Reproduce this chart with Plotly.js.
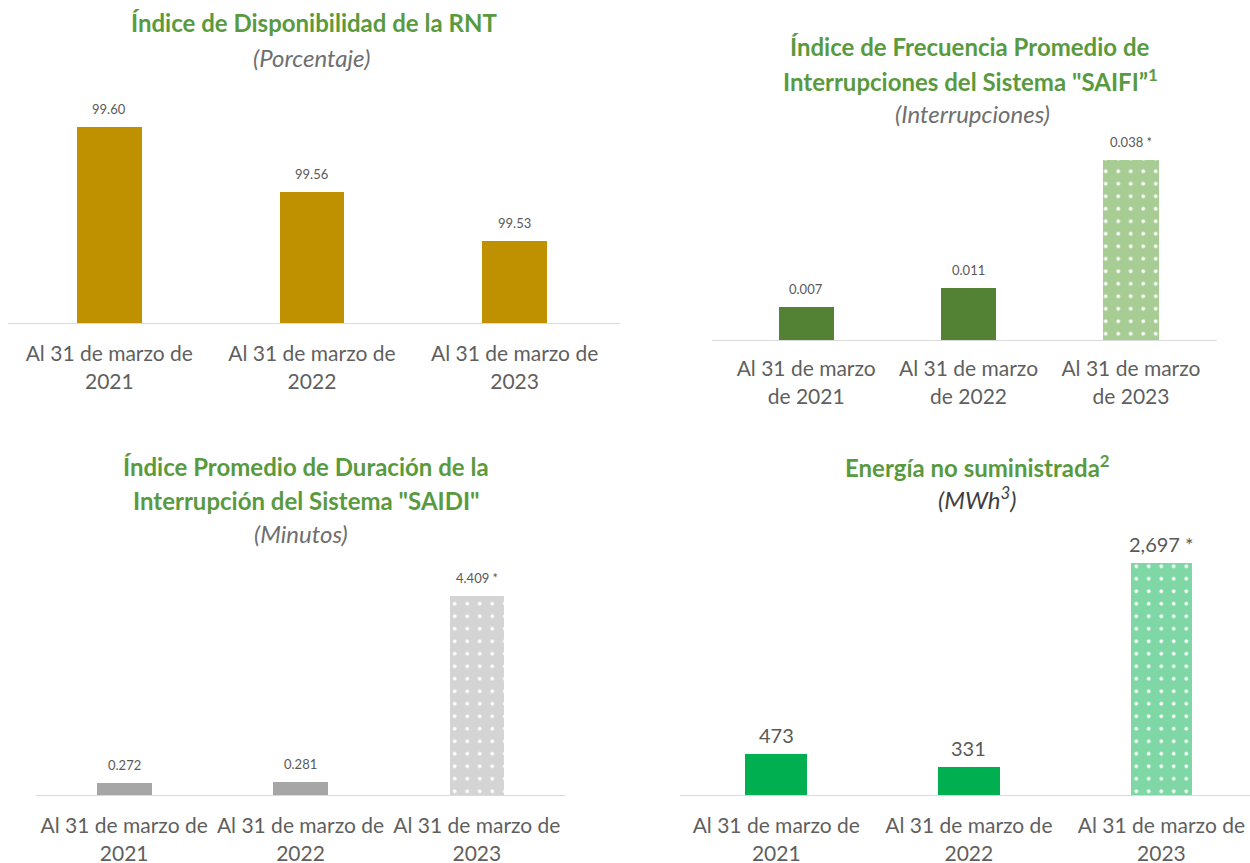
<!DOCTYPE html>
<html>
<head>
<meta charset="utf-8">
<script src="https://cdn.plot.ly/plotly-3.0.1.min.js"></script>
<style>html,body{margin:0;padding:0;background:#fff;}#chart{width:1250px;height:863px;}</style>
</head>
<body>
<div id="chart"></div>
<script>
// ---- Data ----
const catsA = ["Al 31 de marzo de<br>2021", "Al 31 de marzo de<br>2022", "Al 31 de marzo de<br>2023"];
const catsB = ["Al 31 de marzo<br>de 2021", "Al 31 de marzo<br>de 2022", "Al 31 de marzo<br>de 2023"];

const rntValues = [99.60, 99.56, 99.53];
const rntLabels = ["99.60", "99.56", "99.53"];

const saifiValues = [0.007, 0.011, 0.038];
const saifiLabels = ["0.007", "0.011", "0.038 *"];

const saidiValues = [0.272, 0.281, 4.409];
const saidiLabels = ["0.272", "0.281", "4.409 *"];

const ensValues = [473, 331, 2697];
const ensLabels = ["473", "331", "2,697 *"];

// which points are preliminary (drawn with the dotted pattern)
const rntPrelim   = [false, false, false];
const saifiPrelim = [false, false, true];
const saidiPrelim = [false, false, true];
const ensPrelim   = [false, false, true];

// ---- Styling helpers ----
const W = 1250, H = 863;
const px = v => v / W;
const py = v => 1 - v / H;
const FONT = "Lato, 'Open Sans', sans-serif";
const TITLE_GREEN = "#5A9A3F";
const TEXT_GRAY = "#5f5f5f";

function barTraces(cats, vals, prelim, solidColor, patColor, xa, ya, width) {
  const out = [];
  const sx = [], sy = [], dx = [], dy = [];
  cats.forEach((c, i) => {
    if (prelim[i]) { dx.push(c); dy.push(vals[i]); } else { sx.push(c); sy.push(vals[i]); }
  });
  out.push({
    type: "bar", x: sx, y: sy, xaxis: xa, yaxis: ya, width: width,
    marker: { color: solidColor, line: { width: 0 } },
    hoverinfo: "skip", showlegend: false
  });
  if (dx.length) {
    out.push({
      type: "bar", x: dx, y: dy, xaxis: xa, yaxis: ya, width: width,
      marker: {
        color: patColor, line: { width: 0 },
        pattern: { shape: ".", fgcolor: "#ffffff", fgopacity: 0.95, size: 12.5, solidity: 0.07, fillmode: "overlay" }
      },
      hoverinfo: "skip", showlegend: false
    });
  }
  return out;
}

const traces = [
  ...barTraces(catsA, rntValues, rntPrelim, "#BF9000", "#BF9000", "x", "y", 0.32),
  ...barTraces(catsB, saifiValues, saifiPrelim, "#548235", "#A8CD94", "x2", "y2", 0.34),
  ...barTraces(catsA, saidiValues, saidiPrelim, "#A6A6A6", "#D4D4D4", "x3", "y3", 0.31),
  ...barTraces(catsA, ensValues, ensPrelim, "#00B050", "#7ED7A5", "x4", "y4", 0.32)
];

function xAxis(domain, range, yref, standoff, cats) {
  return {
    domain: domain, range: range, anchor: yref, type: "category",
    categoryorder: "array", categoryarray: cats,
    showline: true, linecolor: "#D9D9D9", linewidth: 1,
    showgrid: false, zeroline: false, ticks: "",
    ticklabelstandoff: standoff,
    tickfont: { family: FONT, size: 21, color: TEXT_GRAY },
    fixedrange: true
  };
}
function yAxis(domain, range, xref) {
  return {
    domain: domain, range: range, anchor: xref,
    visible: false, showgrid: false, zeroline: false, fixedrange: true
  };
}

// value labels as annotations (built from data arrays)
function valueLabels(cats, vals, labels, xa, ya, size, shift) {
  return cats.map((c, i) => ({
    x: c, y: vals[i], xref: xa, yref: ya, text: labels[i],
    showarrow: false, yanchor: "bottom", yshift: shift,
    font: { family: FONT, size: size, color: "#595959" }
  }));
}

function titleLine(text, cx, cy, size, bold, italic, color) {
  return {
    xref: "paper", yref: "paper", x: px(cx), y: py(cy), xanchor: "center", yanchor: "middle",
    text: bold ? "<b>" + text + "</b>" : (italic ? "<i>" + text + "</i>" : text),
    showarrow: false, font: { family: FONT, size: size, color: color }
  };
}

const annotations = [
  ...valueLabels(catsA, rntValues, rntLabels, "x", "y", 13, 8),
  ...valueLabels(catsB, saifiValues, saifiLabels, "x2", "y2", 13, 8),
  ...valueLabels(catsA, saidiValues, saidiLabels, "x3", "y3", 13, 8),
  ...valueLabels(catsA, ensValues, ensLabels, "x4", "y4", 20, 5),

  titleLine("Índice de Disponibilidad de la RNT", 314, 22, 24, true, false, TITLE_GREEN),
  titleLine("(Porcentaje)", 311, 58, 24, false, true, "#6f6f6f"),

  titleLine("Índice de Frecuencia Promedio de", 970, 47, 24, true, false, TITLE_GREEN),
  titleLine("Interrupciones del Sistema \"SAIFI”<sup>1</sup>", 970, 80, 24, true, false, TITLE_GREEN),
  titleLine("(Interrupciones)", 972, 113, 24, false, true, "#6f6f6f"),

  titleLine("Índice Promedio de Duración de la", 306, 466, 24, true, false, TITLE_GREEN),
  titleLine("Interrupción del Sistema \"SAIDI\"", 306, 500, 24, true, false, TITLE_GREEN),
  titleLine("(Minutos)", 301, 533, 24, false, true, "#6f6f6f"),

  titleLine("Energía no suministrada<sup>2</sup>", 977, 466, 24, true, false, TITLE_GREEN),
  titleLine("(MWh<sup>3</sup>)", 977, 498, 24, false, true, "#3f3f3f")
];

const layout = {
  width: W, height: H,
  margin: { l: 0, r: 0, t: 0, b: 0 },
  paper_bgcolor: "#ffffff", plot_bgcolor: "#ffffff",
  showlegend: false, barmode: "overlay", bargap: 0,
  xaxis:  xAxis([px(8),   px(620)],  [-0.5, 2.52], "y", 12, catsA),
  yaxis:  yAxis([py(323), py(100)],  [99.4793, 99.6164], "x"),
  xaxis2: xAxis([px(712), px(1217)], [-0.58, 2.53], "y2", 10, catsB),
  yaxis2: yAxis([py(340), py(140)],  [0, 0.0422], "x2"),
  xaxis3: xAxis([px(36),  px(565)],  [-0.5, 2.5], "y3", 12, catsA),
  yaxis3: yAxis([py(795), py(560)],  [0, 5.21], "x3"),
  xaxis4: xAxis([px(680), px(1250)], [-0.5, 2.46], "y4", 12, catsA),
  yaxis4: yAxis([py(795), py(560)],  [0, 2733], "x4"),
  annotations: annotations
};

Plotly.newPlot("chart", traces, layout, { displayModeBar: false, staticPlot: true });
</script>
</body>
</html>
